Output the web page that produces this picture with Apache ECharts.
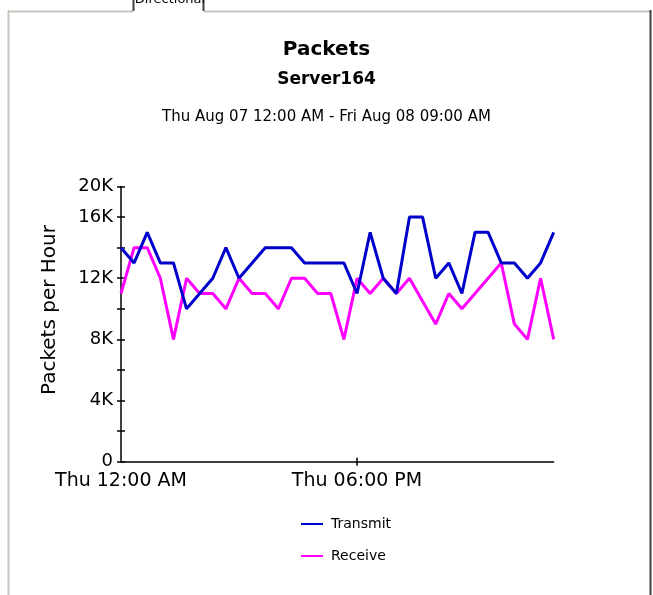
<!DOCTYPE html>
<html>
<head>
<meta charset="utf-8">
<script src="https://cdn.jsdelivr.net/npm/echarts@6/dist/echarts.min.js"></script>
<style>
html,body{margin:0;padding:0;background:#fff;}
#chart{width:653px;height:595px;}
</style>
</head>
<body>
<div id="chart"></div>
<script>
// ---- data ----
var categories = [
  'Thu 12:00 AM','Thu 01:00 AM','Thu 02:00 AM','Thu 03:00 AM','Thu 04:00 AM','Thu 05:00 AM',
  'Thu 06:00 AM','Thu 07:00 AM','Thu 08:00 AM','Thu 09:00 AM','Thu 10:00 AM','Thu 11:00 AM',
  'Thu 12:00 PM','Thu 01:00 PM','Thu 02:00 PM','Thu 03:00 PM','Thu 04:00 PM','Thu 05:00 PM',
  'Thu 06:00 PM','Thu 07:00 PM','Thu 08:00 PM','Thu 09:00 PM','Thu 10:00 PM','Thu 11:00 PM',
  'Fri 12:00 AM','Fri 01:00 AM','Fri 02:00 AM','Fri 03:00 AM','Fri 04:00 AM','Fri 05:00 AM',
  'Fri 06:00 AM','Fri 07:00 AM','Fri 08:00 AM','Fri 09:00 AM'
];
var transmit = [14000,13000,15000,13000,13000,10000,11000,12000,14000,12000,13000,14000,
                14000,14000,13000,13000,13000,13000,11000,15000,12000,11000,16000,16000,
                12000,13000,11000,15000,15000,13000,13000,12000,13000,15000];
var receive  = [11000,14000,14000,12000,8000,12000,11000,11000,10000,12000,11000,11000,
                10000,12000,12000,11000,11000,8000,12000,11000,12000,11000,12000,10500,
                9000,11000,10000,11000,12000,13000,9000,8000,12000,8000];
var xTickLabelIndexes = [0, 18];
var yTickLabels = ['0','','4K','','8K','','12K','','16K','20K'];
var titleText = 'Packets';
var subtitleText = 'Server164';
var rangeText = 'Thu Aug 07 12:00 AM - Fri Aug 08 09:00 AM';
var yAxisTitle = 'Packets per Hour';
var seriesNames = ['Transmit','Receive'];

// ---- chart ----
var FONT = 'DejaVu Sans';
var chart = echarts.init(document.getElementById('chart'), null, {renderer:'canvas'});
function showX(i){ return xTickLabelIndexes.indexOf(i) >= 0; }
var yAxisBase = {
  type:'value', min:0, max:18000, interval:2000, position:'left',
  splitLine:{show:false}
};
var option = {
  backgroundColor:'#ffffff',
  animation:false,
  title:[
    {text:titleText, left:'center', top:35, textStyle:{fontFamily:FONT, fontSize:20, fontWeight:'bold', color:'#000'}},
    {text:subtitleText, left:'center', top:66, textStyle:{fontFamily:FONT, fontSize:17, fontWeight:'bold', color:'#000'}},
    {text:rangeText, left:'center', top:105, textStyle:{fontFamily:FONT, fontSize:15, fontWeight:'normal', color:'#000'}}
  ],
  legend:{
    orient:'vertical', left:296, top:512,
    icon:'rect', itemWidth:22, itemHeight:2, itemGap:18,
    textStyle:{fontFamily:FONT, fontSize:14, color:'#000', padding:[0,0,0,3]},
    data:seriesNames
  },
  grid:{left:121, right:99.3, top:186.5, bottom:133.3, containLabel:false},
  xAxis:[
    {type:'category', data:categories, boundaryGap:false, position:'bottom',
     axisLine:{lineStyle:{color:'#000', width:1.5}},
     axisTick:{show:true, length:4, interval:function(i){return i===18;}, lineStyle:{color:'#000', width:1.5}},
     axisLabel:{interval:function(i){return showX(i);}, margin:10, fontFamily:FONT, fontSize:19, color:'#000'},
     splitLine:{show:false}},
    {type:'category', data:categories, boundaryGap:false, position:'bottom', gridIndex:0,
     axisLine:{show:false},
     axisTick:{show:true, inside:true, length:4, interval:function(i){return i===18;}, lineStyle:{color:'#000', width:1.5}},
     axisLabel:{show:false}, splitLine:{show:false}}
  ],
  yAxis:[
    Object.assign({}, yAxisBase, {
      axisLine:{show:true, lineStyle:{color:'#000', width:1.5}},
      axisTick:{show:true, length:4, lineStyle:{color:'#000', width:1.5}},
      axisLabel:{margin:8, fontFamily:FONT, fontSize:18, color:'#000',
        formatter:function(v){ return yTickLabels[Math.round(v/2000)]; }}
    }),
    Object.assign({}, yAxisBase, {
      axisLine:{show:false},
      axisTick:{show:true, inside:true, length:4, lineStyle:{color:'#000', width:1.5}},
      axisLabel:{show:false}
    })
  ],
  series:[
    {name:seriesNames[0], type:'line', data:transmit, showSymbol:false, symbol:'none',
     lineStyle:{color:'#0000cc', width:3}, itemStyle:{color:'#0000cc'}, z:3},
    {name:seriesNames[1], type:'line', data:receive, showSymbol:false, symbol:'none',
     lineStyle:{color:'#ff00ff', width:3}, itemStyle:{color:'#ff00ff'}, z:2}
  ],
  graphic:[
    {type:'text', x:50, y:310, rotation:Math.PI/2,
     style:{text:yAxisTitle, fontFamily:FONT, fontSize:20, fill:'#000', align:'center', verticalAlign:'middle'}},
    // panel frame
    {type:'line', shape:{x1:8.5,y1:10.5,x2:8.5,y2:595}, style:{stroke:'#c8c4bc', lineWidth:2}},
    {type:'line', shape:{x1:8,y1:11.5,x2:133,y2:11.5}, style:{stroke:'#c8c4bc', lineWidth:2}},
    {type:'line', shape:{x1:204,y1:11.5,x2:650,y2:11.5}, style:{stroke:'#c8c4bc', lineWidth:2}},
    {type:'line', shape:{x1:133.5,y1:0,x2:133.5,y2:11}, style:{stroke:'#404040', lineWidth:2}},
    {type:'line', shape:{x1:203.5,y1:0,x2:203.5,y2:11}, style:{stroke:'#404040', lineWidth:2}},
    {type:'line', shape:{x1:650.5,y1:10,x2:650.5,y2:595}, style:{stroke:'#404040', lineWidth:2}},
    {type:'text', x:170, y:0, style:{text:'Directional', fontFamily:FONT, fontSize:13, fill:'#000', align:'center', verticalAlign:'middle'}}
  ]
};
chart.setOption(option);
</script>
</body>
</html>
